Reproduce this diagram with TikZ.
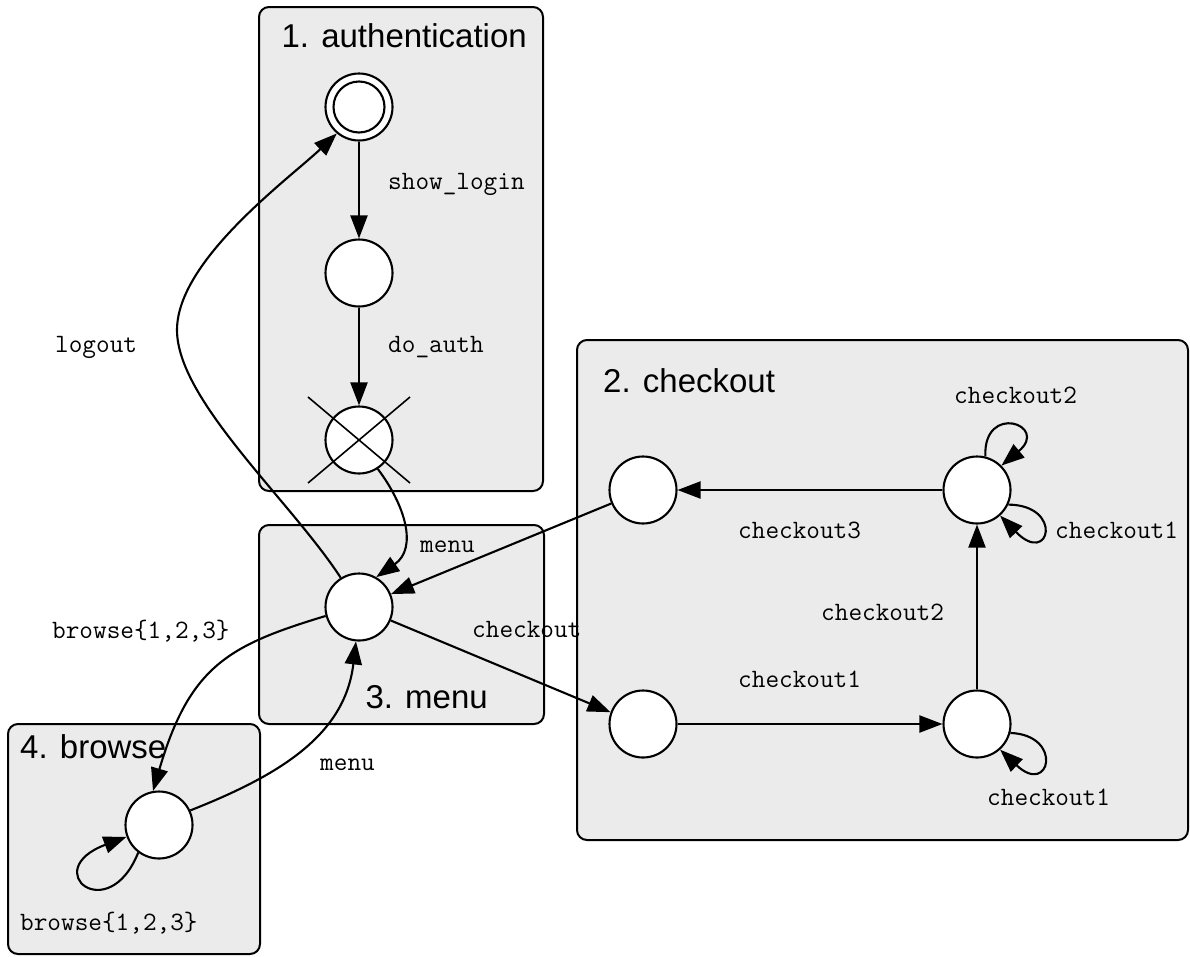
\documentclass[tikz,border=0pt]{standalone}
\usepackage{fontspec}
\setmainfont{Liberation Sans}
\usetikzlibrary{arrows.meta,calc}
\begin{document}
\begin{tikzpicture}[x=1pt,y=-1pt,
  cluster/.style={draw=black,line width=2pt,fill=black!8,rounded corners=10pt},
  st/.style={circle,draw=black,line width=2.1pt,fill=white,minimum size=67pt,inner sep=0pt},
  edge/.style={line width=2.1pt,-{Triangle[length=23pt,width=17pt]}},
  ttl/.style={font=\fontsize{33}{38}\selectfont,inner sep=0pt},
  lbl/.style={font=\ttfamily\fontsize{26.5}{30}\selectfont,inner sep=0pt,anchor=base west}]
\useasboundingbox (0,0) rectangle (1190,956);
% clusters
\draw[cluster] (259,7) rectangle (543,491);
\draw[cluster] (577,340) rectangle (1188,840);
\draw[cluster] (259,525) rectangle (544,724);
\draw[cluster] (8,724) rectangle (260,954);
\node[ttl,anchor=base east] (t1) at (527,47) {1. authentication};
\node[ttl,anchor=base west] (t2) at (603,392) {2. checkout};
\node[ttl,anchor=base east] (t3) at (488,708) {3. menu};
\node[ttl,anchor=base west] (t4) at (20,758) {4. browse};
% states
\node[st] (a1) at (359,107) {};
\draw[line width=2.1pt] (a1.center) circle (25.5);
\node[st] (a2) at (359,273) {};
\node[st] (a3) at (359,440) {};
\draw[line width=1.6pt] ($(a3.center)+(-51,-43)$) -- ($(a3.center)+(51,43)$);
\draw[line width=1.6pt] ($(a3.center)+(-51,43)$) -- ($(a3.center)+(51,-43)$);
\node[st] (m) at (359,607) {};
\node[st] (b) at (159,825) {};
\node[st] (c3) at (643,490) {};
\node[st] (c4) at (977,490) {};
\node[st] (c1) at (643,724) {};
\node[st] (c2) at (977,724) {};
\coordinate (lo) at (177,330);
% edges
\draw[edge] (a1) -- (a2);
\draw[edge] (a2) -- (a3);
\draw[edge] (a3.-57) .. controls (405,505) and (418,548) .. (m.60);
\draw[edge] (m.122) .. controls (290,500) and (177,400) .. (lo) .. controls (177,260) and (290,178) .. (a1.-130);
\draw[edge] (m.-23) -- (c1.160);
\draw[edge] (c3.-157) -- (m.22);
\draw[edge] (c4) -- (c3);
\draw[edge] (c1) -- (c2);
\draw[edge] (c2) -- (c4);
\draw[edge] (c4.76) .. controls (983,402) and (1050,425) .. (c4.45);
\draw[edge] (c4.-25) .. controls (1064,505) and (1050,567) .. (c4.-48);
\draw[edge] (c2.-15) .. controls (1064,735) and (1050,797) .. (c2.-48);
\draw[edge] (m.-165) .. controls (230,645) and (190,665) .. (b.100);
\draw[edge] (b.25) .. controls (280,775) and (345,735) .. (m.-95);
\draw[edge] (b.-127) .. controls (108,928) and (38,870) .. (b.-160);
% labels
\node[lbl] (l1) at (388,189) {show\_login};
\node[lbl] (l2) at (388,352) {do\_auth};
\node[lbl] (l3) at (55,352) {logout};
\node[lbl] (l4) at (420,552) {menu};
\node[lbl] (l5) at (472,637) {checkout};
\node[lbl] (l6) at (52,638) {browse\{1,2,3\}};
\node[lbl] (l7) at (320,770) {menu};
\node[lbl] (l8) at (20,930) {browse\{1,2,3\}};
\node[lbl] (l9) at (954,403) {checkout2};
\node[lbl] (l10) at (738,538) {checkout3};
\node[lbl] (l11) at (1055,538) {checkout1};
\node[lbl] (l12) at (821,620) {checkout2};
\node[lbl] (l13) at (738,687) {checkout1};
\node[lbl] (l14) at (987,805) {checkout1};
\end{tikzpicture}
\end{document}
